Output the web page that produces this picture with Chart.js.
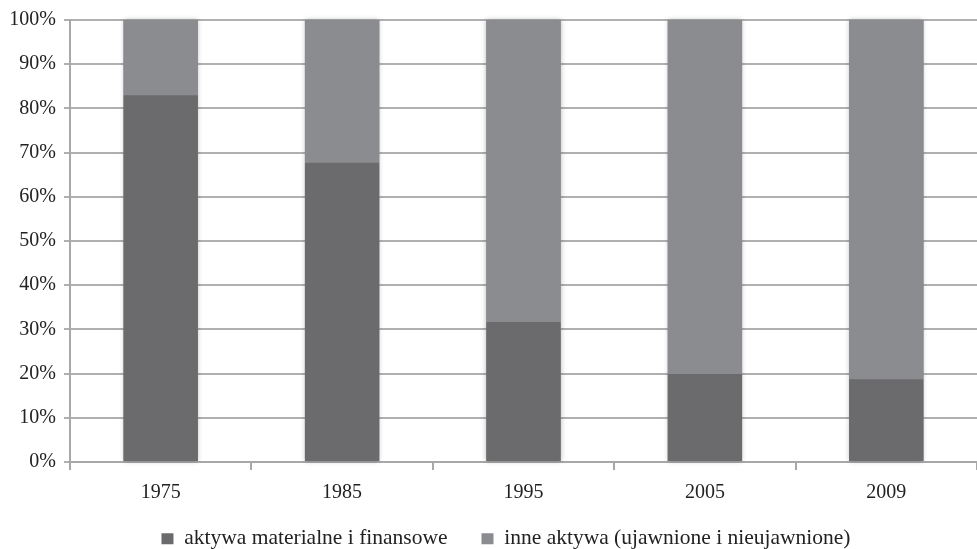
<!DOCTYPE html>
<html>
<head>
<meta charset="utf-8">
<script src="https://cdn.jsdelivr.net/npm/chart.js@4/dist/chart.umd.min.js"></script>
<style>
  html, body { margin: 0; padding: 0; background: #fff; }
  #wrap { width: 977px; height: 549px; position: relative; }
</style>
</head>
<body>
<div id="wrap"><canvas id="c"></canvas></div>
<script>
// Years on the category axis
const years = ['1975', '1985', '1995', '2005', '2009'];
// Share of tangible and financial assets (%)
const tangibleFinancial = [83.0, 67.7, 31.7, 19.9, 18.7];
// Share of other assets, disclosed and undisclosed (%)
const otherAssets = [17.0, 32.3, 68.3, 80.1, 81.3];
const seriesNames = ['aktywa materialne i finansowe', 'inne aktywa (ujawnione i nieujawnione)'];

const FONT = "'Liberation Serif', 'Times New Roman', serif";

// Soft shadow behind each whole stacked column, drawn before the bars
const columnShadow = {
  id: 'columnShadow',
  beforeDatasetsDraw(chart) {
    const ctx = chart.ctx;
    const lower = chart.getDatasetMeta(0).data;
    const upper = chart.getDatasetMeta(chart.data.datasets.length - 1).data;
    ctx.save();
    ctx.shadowColor = 'rgba(0,0,0,0.28)';
    ctx.shadowBlur = 5;
    ctx.fillStyle = '#8b8c8f';
    lower.forEach((bar, i) => {
      const top = upper[i].y;
      const w = bar.width;
      ctx.fillRect(bar.x - w / 2, top, w, bar.base - top);
    });
    ctx.restore();
  }
};

// Legend band: nudged toward the plot centre and lifted a little
const legendPlacement = {
  id: 'legendPlacement',
  afterLayout(chart) {
    const lg = chart.legend;
    if (!lg) return;
    const shift = ((chart.chartArea.left + chart.chartArea.right) - (lg.left + lg.right)) / 2 * 0.5;
    lg.left += shift;
    lg.right += shift;
    lg.top -= 18;
  }
};

const chart = new Chart(document.getElementById('c'), {
  type: 'bar',
  data: {
    labels: years,
    datasets: [
      { label: seriesNames[0], data: tangibleFinancial, backgroundColor: '#6b6b6d', borderWidth: 0 },
      { label: seriesNames[1], data: otherAssets, backgroundColor: '#8b8c8f', borderWidth: 0 }
    ]
  },
  plugins: [columnShadow, legendPlacement],
  options: {
    responsive: true,
    maintainAspectRatio: false,
    animation: false,
    devicePixelRatio: 1,
    layout: { padding: { top: 17, right: 0, left: 0, bottom: 0 } },
    datasets: { bar: { categoryPercentage: 1.0, barPercentage: 0.41 } },
    plugins: {
      tooltip: { enabled: false },
      legend: {
        position: 'bottom',
        labels: {
          font: { family: FONT, size: 21.5 },
          color: '#222',
          boxWidth: 12,
          boxHeight: 11,
          padding: 34
        }
      }
    },
    scales: {
      x: {
        stacked: true,
        offset: true,
        afterFit(scale) { scale.height = 50; },
        grid: {
          display: true,
          drawOnChartArea: false,
          drawTicks: true,
          tickLength: 8,
          offset: true,
          color: '#a8a8a8',
          lineWidth: 2
        },
        border: { display: true, color: '#a8a8a8', width: 2 },
        ticks: {
          font: { family: FONT, size: 20 },
          color: '#222',
          padding: 11
        }
      },
      y: {
        stacked: true,
        min: 0,
        max: 100,
        afterFit(scale) { scale.width = 70; },
        grid: {
          color: '#b0b0b0',
          lineWidth: 2,
          tickLength: 6
        },
        border: { display: true, color: '#a8a8a8', width: 2 },
        ticks: {
          stepSize: 10,
          font: { family: FONT, size: 20 },
          color: '#222',
          padding: 8,
          callback: v => v + '%'
        }
      }
    }
  }
});

// Keep the legend band compact so the plot keeps its height
const baseFit = chart.legend.fit;
chart.legend.fit = function () {
  baseFit.call(this);
  this.height = 37;
};
chart.update();
</script>
</body>
</html>
